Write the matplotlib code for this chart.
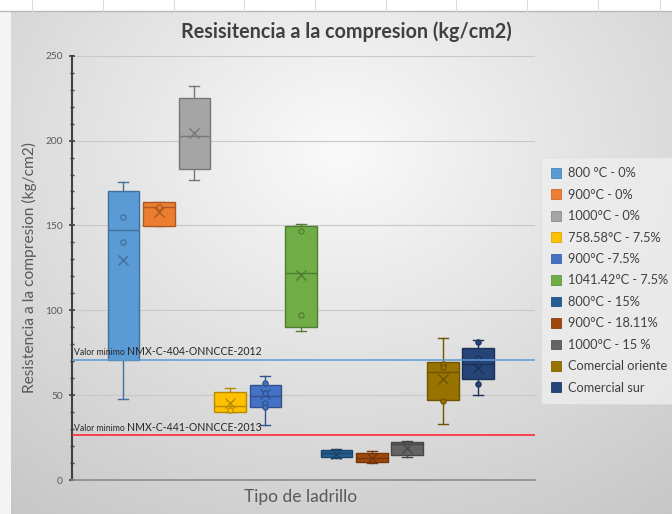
import numpy as np
import matplotlib
matplotlib.use("Agg")
import matplotlib.pyplot as plt
from matplotlib.patches import Patch
import matplotlib.colors as mcolors

plt.rcParams['font.family'] = ['Lato', 'DejaVu Sans']

# ---------------- data ----------------
series = ["800 °C - 0%", "900°C - 0%", "1000°C - 0%", "758.58°C - 7.5%", "900°C -7.5%",
          "1041.42°C - 7.5%", "800°C - 15%", "900°C - 18.11%", "1000°C - 15 %",
          "Comercial oriente", "Comercial sur"]
colors = ["#5B9BD5", "#ED7D31", "#A5A5A5", "#FFC000", "#4472C4", "#70AD47",
          "#255E91", "#9E480E", "#636363", "#997300", "#264478"]
q1 = [70.7, 149.5, 183.0, 40.0, 43.2, 90.2, 13.4, 10.4, 14.9, 47.0, 59.7]
median = [147.3, 161.0, 202.9, 43.6, 49.5, 121.8, 15.7, 12.8, 21.0, 63.8, 68.6]
q3 = [170.5, 164.0, 224.9, 52.0, 56.0, 149.5, 17.7, 16.1, 22.2, 69.4, 78.0]
whisker_low = [47.9, 149.5, 176.8, 40.0, 32.4, 88.0, 13.0, 9.8, 13.4, 33.2, 50.1]
whisker_high = [175.8, 164.0, 232.0, 54.2, 61.5, 150.7, 18.4, 17.1, 22.8, 83.9, 82.5]
mean = [129.6, 158.0, 204.3, 45.2, 50.5, 120.8, 15.5, 13.2, 18.7, 59.5, 66.0]
inner_points = [[154.8, 140.2], [161.0], [], [41.0], [57.3, 51.4, 45.2, 42.8],
                [146.5, 97.2], [], [], [], [68.5, 66.8, 46.8], [81.3, 72.0, 56.6]]
ref_lines = [70.8, 26.4]
ref_labels = [("Valor minimo ", "NMX-C-404-ONNCCE-2012"),
              ("Valor minimo ", "NMX-C-441-ONNCCE-2013")]
ref_colors = ["#5B9BD5", "#FF1A2A"]

W, H = 672, 514
fig = plt.figure(figsize=(W / 100, H / 100), dpi=100)

# ---------------- background ----------------
bg = fig.add_axes([0, 0, 1, 1], zorder=-10)
bg.set_xlim(0, W)
bg.set_ylim(H, 0)
bg.axis("off")
yy, xx = np.mgrid[0:H, 0:W]
cx, cy = 340, 150
r = np.sqrt(((xx - cx) / 520.0) ** 2 + ((yy - cy) / 430.0) ** 2)
val = np.clip(0.98 - 0.19 * r, 0.78, 0.98)
img = np.dstack([val, val, val])
img[:, :11, :] = 0.96
img[:12, :, :] = 1.0
bg.imshow(img, extent=(0, W, H, 0), aspect="auto", interpolation="bilinear")
bg.plot([0, W], [11, 11], color="#b8b8b8", lw=1)
for xv in [32, 103, 174, 244, 315, 386, 456, 527, 598, 660]:
    bg.plot([xv, xv], [0, 11], color="#dcdcdc", lw=0.8)

# ---------------- main axes ----------------
left, right = 72 / W, 535 / W
bottom, top = (H - 480) / H, (H - 55.7) / H
ax = fig.add_axes([left, bottom, right - left, top - bottom])
ax.set_facecolor("none")
ax.set_xlim(-1.45, 11.6)
ax.set_ylim(0, 250)

positions = np.arange(len(series))
stats = []
for i in range(len(series)):
    stats.append(dict(med=median[i], q1=q1[i], q3=q3[i], whislo=whisker_low[i],
                      whishi=whisker_high[i], mean=mean[i], fliers=[]))


def darker(c, f=0.72):
    rgb = np.array(mcolors.to_rgb(c))
    return tuple(rgb * f)


bp = ax.bxp(stats, positions=positions, widths=0.89, patch_artist=True,
            showmeans=True, showfliers=False, capwidths=0.28, manage_ticks=False)
for i, c in enumerate(colors):
    dc = darker(c)
    bp["boxes"][i].set(facecolor=c, edgecolor=dc, linewidth=1.0, zorder=3)
    bp["medians"][i].set(color=dc, linewidth=1.0, zorder=4)
    for w in bp["whiskers"][2 * i:2 * i + 2]:
        w.set(color=dc, linewidth=1.0, zorder=2)
    for cp in bp["caps"][2 * i:2 * i + 2]:
        cp.set(color=dc, linewidth=1.0, zorder=2)
    bp["means"][i].set(marker="x", markeredgecolor=dc, markersize=7,
                       markeredgewidth=1.0, zorder=5)
    pts = inner_points[i]
    if pts:
        ax.scatter([positions[i]] * len(pts), pts, s=14, facecolor=c,
                   edgecolor=dc, linewidth=0.9, zorder=5)

# reference lines
for yv, col in zip(ref_lines, ref_colors):
    ax.axhline(yv, color=col, lw=1.1, zorder=6)

ax.set_xlim(-1.45, 11.6)
ax.set_ylim(0, 250)
fig.canvas.draw()
for yv, (a, b) in zip(ref_lines, ref_labels):
    t1 = ax.text(-1.38, yv + 1.5, a, fontsize=6.2, color="#262626",
                 va="bottom", ha="left", zorder=7)
    fig.canvas.draw()
    bb = t1.get_window_extent()
    xend = ax.transData.inverted().transform((bb.x1, bb.y0))[0]
    ax.text(xend, yv + 1.5, b, fontsize=7.6, color="#262626",
            va="bottom", ha="left", zorder=7)

ax.set_yticks([0, 50, 100, 150, 200, 250])
ax.set_yticks(np.arange(0, 251, 10), minor=True)
ax.yaxis.grid(True, color="#c8c8c8", lw=0.8, zorder=0)
ax.set_axisbelow(True)
ax.set_xticks([])
for s in ["top", "right"]:
    ax.spines[s].set_visible(False)
ax.spines["left"].set_color("#404040")
ax.spines["left"].set_linewidth(1.5)
ax.spines["bottom"].set_color("#8c8c8c")
ax.spines["bottom"].set_linewidth(1.2)
ax.tick_params(axis="y", which="major", length=5, width=1.2, color="#404040",
               labelsize=7.3, labelcolor="#595959", direction="inout", pad=4)
ax.tick_params(axis="y", which="minor", length=3, width=1.0, color="#404040",
               direction="inout")

ax.set_ylabel("Resistencia a la compresion (kg/cm2)", fontsize=11.2,
              color="#595959", labelpad=6)
fig.text(301 / W, 1 - 497 / H, "Tipo de ladrillo", fontsize=12.5, color="#595959",
         ha="center", va="center")
fig.text(346 / W, 1 - 32 / H, "Resisitencia a la compresion (kg/cm2)", fontsize=14.2,
         fontweight="bold", color="#404040", ha="center", va="center")

# legend
handles = [Patch(facecolor=c, edgecolor=darker(c, 0.85), linewidth=0.6) for c in colors]
leg = fig.legend(handles, series, loc="upper left",
                 bbox_to_anchor=(541 / W, 1 - 157 / H), fontsize=9.2,
                 frameon=True, handlelength=0.8, handleheight=0.8,
                 handletextpad=0.5, labelspacing=0.74, borderpad=0.8,
                 fancybox=False, borderaxespad=0)
leg.get_frame().set_facecolor("#eeeeee")
leg.get_frame().set_edgecolor("#d9d9d9")
leg.get_frame().set_linewidth(0.6)
for t in leg.get_texts():
    t.set_color("#404040")

fig.savefig("out.png", dpi=100)
